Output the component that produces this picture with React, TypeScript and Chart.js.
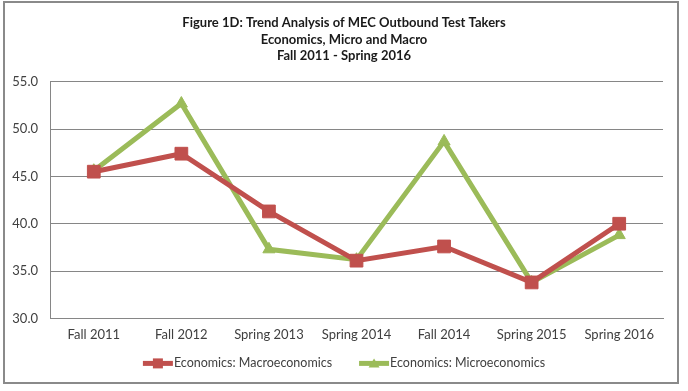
import React, { useEffect, useRef } from "react";
import { Chart, registerables } from "chart.js";

Chart.register(...registerables);

const categories = ["Fall 2011", "Fall 2012", "Spring 2013", "Spring 2014", "Fall 2014", "Spring 2015", "Spring 2016"];
const macroValues = [45.5, 47.4, 41.3, 36.1, 37.6, 33.8, 40.0];
const microValues = [45.6, 52.7, 37.3, 36.2, 48.7, 33.8, 38.8];
const titleLines = ["Figure 1D: Trend Analysis of MEC Outbound Test Takers", "Economics, Micro and Macro", "Fall 2011 - Spring 2016"];
const seriesNames = ["Economics: Macroeconomics", "Economics: Microeconomics"];

const RED = "#C0504D";
const GREEN = "#9BBB59";
const FONT = "Lato, 'Open Sans', sans-serif";

const legendPlugin = {
  id: "lineLegend",
  afterDraw(chart: any) {
    const ctx = chart.ctx as CanvasRenderingContext2D;
    ctx.save();
    ctx.font = `12.5px ${FONT}`;
    const lineLen = 30;
    const gapText = 1;
    const gapItem = 27;
    const colors = [RED, GREEN];
    const styles = ["rect", "triangle"];
    const widths = seriesNames.map((n) => lineLen + gapText + ctx.measureText(n).width);
    const total = widths.reduce((a, b) => a + b, 0) + gapItem * (widths.length - 1);
    let x = chart.width / 2 - total / 2;
    const y = chart.chartArea.bottom + 45;
    seriesNames.forEach((name, i) => {
      const c = colors[i];
      ctx.strokeStyle = c;
      ctx.fillStyle = c;
      ctx.lineWidth = 5;
      ctx.beginPath();
      ctx.moveTo(x, y);
      ctx.lineTo(x + lineLen, y);
      ctx.stroke();
      const cx = x + lineLen / 2;
      if (styles[i] === "rect") {
        ctx.fillRect(cx - 5, y - 5, 10, 10);
      } else {
        ctx.beginPath();
        ctx.moveTo(cx, y - 5);
        ctx.lineTo(cx + 5.5, y + 4);
        ctx.lineTo(cx - 5.5, y + 4);
        ctx.closePath();
        ctx.fill();
      }
      ctx.fillStyle = "#404040";
      ctx.textBaseline = "middle";
      ctx.textAlign = "left";
      ctx.fillText(name, x + lineLen + gapText, y);
      x += widths[i] + gapItem;
    });
    ctx.restore();
  },
};

export default function App() {
  const ref = useRef<HTMLCanvasElement>(null);
  useEffect(() => {
    if (!ref.current) return;
    const chart = new Chart(ref.current, {
      type: "line",
      data: {
        labels: categories,
        datasets: [
          {
            label: seriesNames[0],
            data: macroValues,
            borderColor: RED,
            backgroundColor: RED,
            borderWidth: 5,
            pointStyle: "rect",
            pointRadius: 9,
            pointBorderWidth: 1,
            pointBorderColor: RED,
            pointBackgroundColor: RED,
            tension: 0,
          },
          {
            label: seriesNames[1],
            data: microValues,
            borderColor: GREEN,
            backgroundColor: GREEN,
            borderWidth: 5,
            pointStyle: "triangle",
            pointRadius: 7,
            pointBorderWidth: 1,
            pointBorderColor: GREEN,
            pointBackgroundColor: GREEN,
            tension: 0,
          },
        ],
      },
      options: {
        animation: false,
        responsive: false,
        layout: { padding: { left: 4, right: 4, top: 0, bottom: 39 } },
        plugins: {
          title: {
            display: true,
            text: titleLines,
            color: "#1a1a1a",
            font: { family: FONT, size: 13, weight: "bold", lineHeight: 1.25 },
            padding: { top: 15, bottom: 18 },
          },
          legend: { display: false },
          tooltip: { enabled: false },
        },
        scales: {
          x: {
            offset: true,
            grid: { display: false, drawTicks: false },
            border: { display: true, color: "#868686", width: 1 },
            ticks: { font: { family: FONT, size: 13 }, color: "#404040", padding: 9, maxRotation: 0 },
          },
          y: {
            min: 30,
            max: 55,
            grid: { color: "#868686", lineWidth: 1, drawTicks: false },
            border: { display: true, color: "#868686", width: 1 },
            ticks: {
              stepSize: 5,
              font: { family: FONT, size: 13 },
              color: "#404040",
              padding: 12,
              callback: (v: any) => Number(v).toFixed(1),
            },
            afterFit: (s: any) => {
              s.width = 46;
            },
          },
          y2: {
            position: "right",
            display: true,
            grid: { display: false, drawTicks: false },
            border: { display: false },
            ticks: { display: false },
            afterFit: (s: any) => {
              s.width = 21;
            },
          },
        },
      },
      plugins: [legendPlugin],
    });
    return () => chart.destroy();
  }, []);
  return (
    <div style={{ position: "absolute", left: 0, top: 0, width: 688, height: 391, background: "#fff" }}>
      <canvas ref={ref} width={688} height={391} style={{ position: "absolute", left: 0, top: 0 }} />
      <div
        style={{
          position: "absolute",
          left: 3,
          top: 1,
          width: 676,
          height: 383,
          border: "2px solid #8a8a8a",
          boxSizing: "border-box",
          pointerEvents: "none",
        }}
      />
    </div>
  );
}
